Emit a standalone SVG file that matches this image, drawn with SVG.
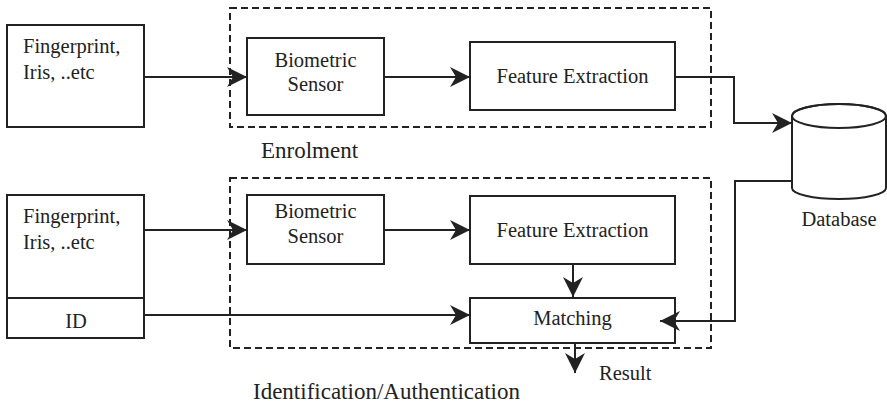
<svg xmlns="http://www.w3.org/2000/svg" width="887" height="406" viewBox="0 0 887 406" font-family="'Liberation Serif', 'DejaVu Serif', serif">
<style>
.box{fill:#fff;stroke:#222;stroke-width:2}
.dash{fill:none;stroke:#222;stroke-width:2;stroke-dasharray:7,4}
.ln{fill:none;stroke:#222;stroke-width:2}
text{font-family:'Liberation Serif','DejaVu Serif',serif;font-size:20.5px;fill:#222}
.c{text-anchor:middle}
.lbl{font-size:23px}
</style>
<defs>
<marker id="ah" markerUnits="userSpaceOnUse" markerWidth="22" markerHeight="22" refX="20" refY="10" orient="auto" viewBox="0 0 22 22">
<path d="M0,0 L20,10 L0,20 L6,10 Z" fill="#222"/>
</marker>
</defs>
<g id="enrol-group">
<rect class="dash" x="230" y="8" width="481" height="119"/>
<text class="lbl" x="261" y="158">Enrolment</text>
</g>
<g id="ident-group">
<rect class="dash" x="230" y="178" width="481" height="170"/>
<text class="lbl" x="253" y="399">Identification/Authentication</text>
</g>
<g id="input-top">
<rect class="box" x="7" y="25" width="137" height="102"/>
<text x="23" y="53">Fingerprint,</text>
<text x="23" y="79">Iris, ..etc</text>
</g>
<g id="sensor-top">
<rect class="box" x="247" y="38" width="137" height="77"/>
<text class="c" x="315.5" y="67">Biometric</text>
<text class="c" x="315.5" y="91">Sensor</text>
</g>
<g id="fe-top">
<rect class="box" x="470" y="42" width="205" height="68"/>
<text class="c" x="572.5" y="83">Feature Extraction</text>
</g>
<g id="database">
<path class="box" d="M792,116 L792,188 A47,11 0 0 0 886,188 L886,116 A47,12 0 0 0 792,116 Z"/>
<ellipse class="ln" cx="839" cy="116" rx="47" ry="12"/>
<text class="c" x="839" y="226">Database</text>
</g>
<g id="input-bottom">
<rect class="box" x="7" y="195" width="137" height="143"/>
<line class="ln" x1="7" y1="298" x2="144" y2="298"/>
<text x="23" y="223">Fingerprint,</text>
<text x="23" y="249">Iris, ..etc</text>
<text class="c" x="76" y="328">ID</text>
</g>
<g id="sensor-bottom">
<rect class="box" x="247" y="195" width="137" height="69"/>
<text class="c" x="315.5" y="218">Biometric</text>
<text class="c" x="315.5" y="243">Sensor</text>
</g>
<g id="fe-bottom">
<rect class="box" x="470" y="196" width="205" height="68"/>
<text class="c" x="572.5" y="237">Feature Extraction</text>
</g>
<g id="matching">
<rect class="box" x="470" y="298" width="205" height="45"/>
<text class="c" x="572.5" y="325">Matching</text>
</g>
<g id="connectors">
<line class="ln" x1="144" y1="77" x2="247" y2="77" marker-end="url(#ah)"/>
<line class="ln" x1="384" y1="77" x2="470" y2="77" marker-end="url(#ah)"/>
<polyline class="ln" points="675,77 734,77 734,123 792,123" marker-end="url(#ah)"/>
<line class="ln" x1="144" y1="230" x2="247" y2="230" marker-end="url(#ah)"/>
<line class="ln" x1="384" y1="230" x2="470" y2="230" marker-end="url(#ah)"/>
<line class="ln" x1="573" y1="264" x2="573" y2="297" marker-end="url(#ah)"/>
<line class="ln" x1="144" y1="315" x2="470" y2="315" marker-end="url(#ah)"/>
<polyline class="ln" points="792,181 735,181 735,321 660,321" marker-end="url(#ah)"/>
<line class="ln" x1="575" y1="343" x2="575" y2="373" marker-end="url(#ah)"/>
<text x="599" y="380">Result</text>
</g>
</svg>
